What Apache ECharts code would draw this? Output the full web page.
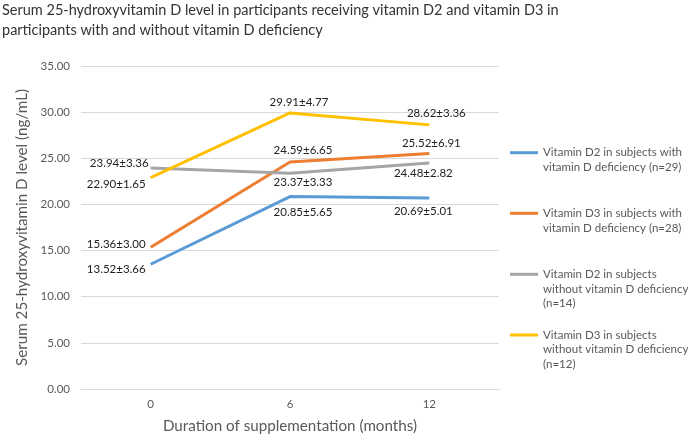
<!DOCTYPE html>
<html><head><meta charset="utf-8">
<script src="https://cdn.jsdelivr.net/npm/echarts@6/dist/echarts.min.js"></script>
<style>html,body{margin:0;padding:0;background:#fff}#c{width:688px;height:439px}</style>
</head><body><div id="c"></div>
<script>
// ---- data ----
const categories = ['0', '6', '12'];
const seriesNames = [
  'Vitamin D2 in subjects with vitamin D deficiency (n=29)',
  'Vitamin D3 in subjects with vitamin D deficiency (n=28)',
  'Vitamin D2 in subjects without vitamin D deficiency (n=14)',
  'Vitamin D3 in subjects without vitamin D deficiency (n=12)'
];
const legendLines = [
  ['Vitamin D2 in subjects with', 'vitamin D deficiency (n=29)'],
  ['Vitamin D3 in subjects with', 'vitamin D deficiency (n=28)'],
  ['Vitamin D2 in subjects', 'without vitamin D deficiency', '(n=14)'],
  ['Vitamin D3 in subjects', 'without vitamin D deficiency', '(n=12)']
];
const d2Def   = [13.52, 20.85, 20.69];
const d2DefSD = [3.66, 5.65, 5.01];
const d3Def   = [15.36, 24.59, 25.52];
const d3DefSD = [3.00, 6.65, 6.91];
const d2No    = [23.94, 23.37, 24.48];
const d2NoSD  = [3.36, 3.33, 2.82];
const d3No    = [22.90, 29.91, 28.62];
const d3NoSD  = [1.65, 4.77, 3.36];
const yMin = 0, yMax = 35, yStep = 5;

// ---- styles / layout ----
const colors = ['#5B9BD5', '#ED7D31', '#A5A5A5', '#FFC000'];
const FONT = 'Lato';
const labelLayout = [
  [{p: 'left', d: 5, o: [0, 5]}, {p: 'bottom', d: 10, o: [13, 0]}, {p: 'bottom', d: 7, o: [-6, 0]}],
  [{p: 'left', d: 5, o: [0, -3]}, {p: 'top', d: 6, o: [13, 0]}, {p: 'top', d: 4, o: [2, 0]}],
  [{p: 'left', d: 2, o: [0, -5]}, {p: 'bottom', d: 3, o: [13, 0]}, {p: 'bottom', d: 4, o: [-6, 0]}],
  [{p: 'left', d: 5, o: [0, 7]}, {p: 'top', d: 5, o: [9, 0]}, {p: 'top', d: 6, o: [7, 0]}]
];
const legendIconY = [152.7, 213.3, 274.3, 335];
const LH = 14.7;

const values = [d2Def, d3Def, d2No, d3No];
const sds = [d2DefSD, d3DefSD, d2NoSD, d3NoSD];

const series = values.map((vals, i) => ({
  name: seriesNames[i],
  type: 'line',
  symbol: 'circle',
  symbolSize: 0.01,
  showSymbol: true,
  lineStyle: {width: 3, color: colors[i]},
  itemStyle: {color: colors[i]},
  emphasis: {disabled: true},
  data: vals.map((v, j) => ({
    value: v,
    label: {
      show: true,
      position: labelLayout[i][j].p,
      distance: labelLayout[i][j].d,
      offset: labelLayout[i][j].o,
      formatter: v.toFixed(2) + '±' + sds[i][j].toFixed(2),
      color: '#222',
      fontFamily: FONT,
      fontSize: 11.5
    }
  }))
}));

const legends = seriesNames.map((name, i) => {
  const lines = legendLines[i];
  const pad = lines.length - 1;
  const txt = '\n'.repeat(pad) + lines.join('\n');
  const n = lines.length + pad;
  return {
    orient: 'vertical',
    left: 510,
    top: legendIconY[i] - n * LH / 2,
    padding: 0,
    icon: 'rect',
    itemWidth: 28,
    itemHeight: 3,
    data: [{name: name}],
    formatter: () => txt,
    textStyle: {color: '#595959', fontFamily: FONT, fontSize: 11.5, lineHeight: LH}
  };
});

const chart = echarts.init(document.getElementById('c'), null, {renderer: 'canvas'});
chart.setOption({
  animation: false,
  color: colors,
  title: {
    text: 'Serum 25-hydroxyvitamin D level in participants receiving vitamin D2 and vitamin D3 in\nparticipants with and without vitamin D deficiency',
    left: 2, top: 0, padding: 0,
    textStyle: {fontFamily: FONT, fontSize: 14.5, fontWeight: 'normal', color: '#333', lineHeight: 20}
  },
  legend: legends,
  grid: {left: 81, right: 189, top: 66, bottom: 47.3},
  xAxis: {
    type: 'category',
    data: categories,
    boundaryGap: true,
    axisLine: {lineStyle: {color: '#d9d9d9'}},
    axisTick: {show: false},
    axisLabel: {color: '#595959', fontFamily: FONT, fontSize: 11.5, margin: 9},
    name: 'Duration of supplementation (months)',
    nameLocation: 'middle',
    nameGap: 30,
    nameTextStyle: {color: '#595959', fontFamily: FONT, fontSize: 15.2}
  },
  yAxis: {
    type: 'value',
    min: yMin, max: yMax, interval: yStep,
    axisLine: {show: false},
    axisTick: {show: false},
    splitLine: {lineStyle: {color: '#d9d9d9'}},
    axisLabel: {color: '#595959', fontFamily: FONT, fontSize: 11.5, margin: 11, formatter: v => v.toFixed(2)},
    name: 'Serum 25-hydroxyvitamin D level (ng/mL)',
    nameLocation: 'middle',
    nameGap: 43,
    nameTextStyle: {color: '#595959', fontFamily: FONT, fontSize: 15.2}
  },
  series: series
});
</script></body></html>
